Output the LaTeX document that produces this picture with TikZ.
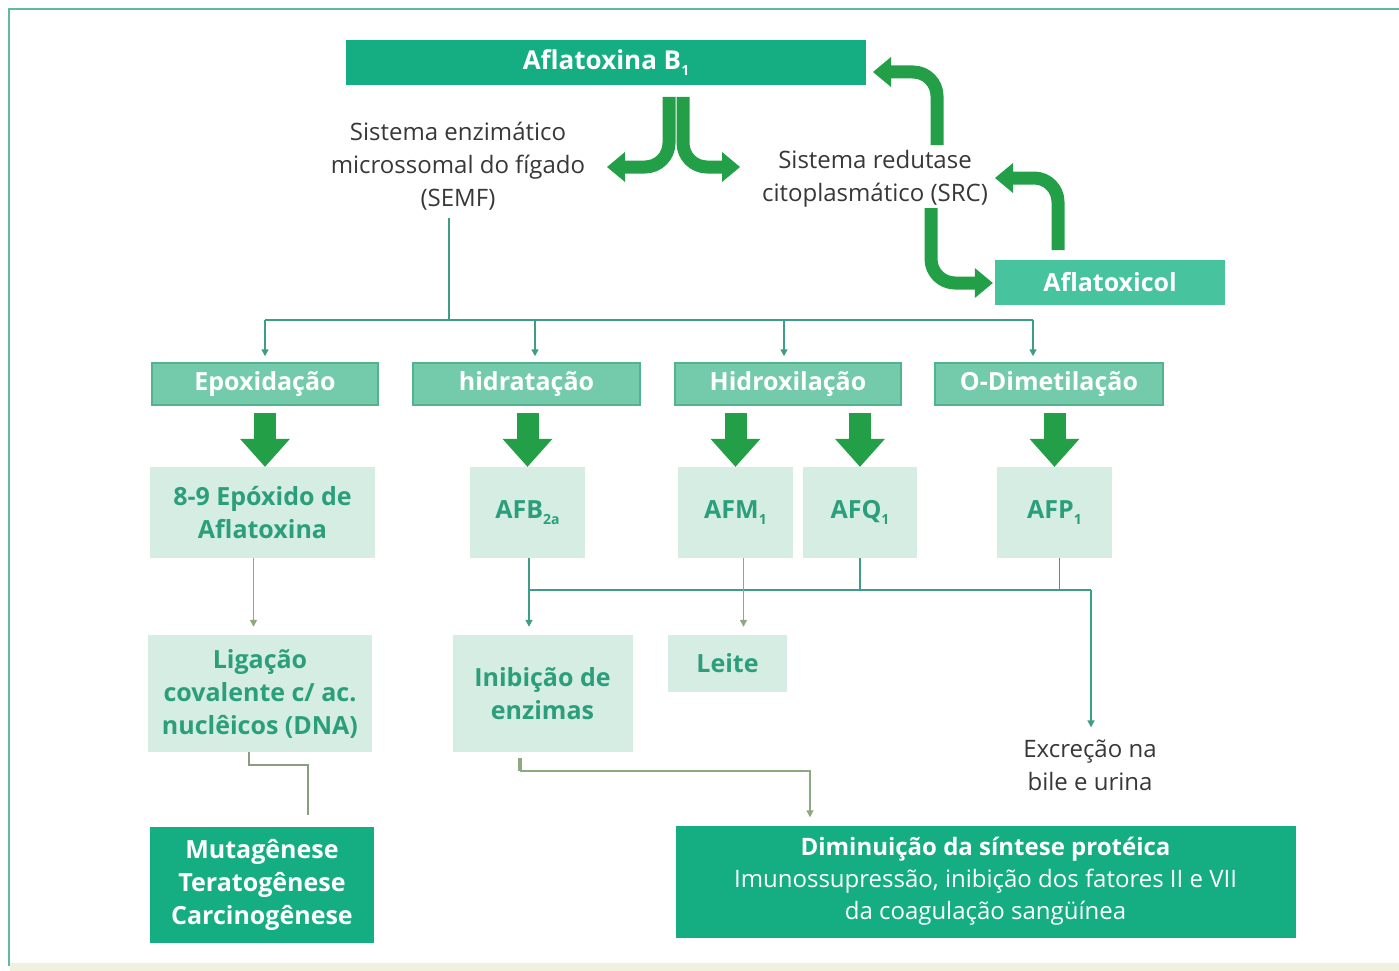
\documentclass[tikz,border=0pt]{standalone}
\usepackage{fontspec}
\setmainfont{Open Sans}
\usetikzlibrary{arrows.meta}

\definecolor{deepgreen}{HTML}{14AE82}
\definecolor{midgreen}{HTML}{47C39D}
\definecolor{procfill}{HTML}{74CBAB}
\definecolor{procline}{HTML}{52B38F}
\definecolor{prodfill}{HTML}{D5EDE3}
\definecolor{prodtext}{HTML}{2B9F7B}
\definecolor{arrowgreen}{HTML}{23A047}
\definecolor{linkteal}{HTML}{3E9E85}
\definecolor{linkolive}{HTML}{8EA881}
\definecolor{graytext}{HTML}{383838}
\definecolor{framegreen}{HTML}{62B99C}
\definecolor{stripbeige}{HTML}{F1F0DF}

\newcommand{\lowidx}[1]{\raisebox{-0.4ex}{\fontsize{14}{14}\selectfont #1}}

\begin{document}
\begin{tikzpicture}[x=1pt,y=-1pt,
  box/.style={rectangle, inner sep=0pt, align=center,
    font=\bfseries\fontsize{25}{33}\selectfont},
  darkbox/.style={box, fill=deepgreen, text=white},
  lightbox/.style={box, fill=midgreen, text=white},
  procbox/.style={box, fill=procfill, draw=procline, line width=1.5pt, text=white},
  prodbox/.style={box, fill=prodfill, text=prodtext},
  plain/.style={align=center, text=graytext, inner sep=0pt,
    font=\fontsize{24}{33}\selectfont},
  link/.style={draw=linkteal, line width=1.6pt},
  linkol/.style={draw=linkolive, line width=1.6pt},
  smalltip/.style={-{Triangle[width=7pt,length=7pt]}},
  bigdown/.style={draw=arrowgreen, line width=22pt,
    -{Triangle[width=50pt,length=28pt,line width=0pt]}},
  curvearrow/.style={draw=arrowgreen, line width=13pt, rounded corners=24pt,
    -{Triangle[width=30pt,length=18pt,line width=0pt]}}
]
% page and frame
\fill[white] (0,0) rectangle (1399,971);
\useasboundingbox (0,0) rectangle (1399,971);
\fill[stripbeige] (10,963) rectangle (1399,971);
\draw[framegreen, line width=2.5pt] (9,966) -- (9,9) -- (1399,9);

% top level
\node[darkbox, minimum width=520pt, minimum height=45pt,
  font=\bfseries\fontsize{26}{33}\selectfont] (afb1) at (606,62.5)
  {Aflatoxina B\lowidx{1}};
\node[plain] (semf) at (458,166) {Sistema enzimático\\microssomal do fígado\\(SEMF)};
\node[plain] (src) at (875,179) {Sistema redutase\\citoplasmático (SRC)};
\node[lightbox, minimum width=230pt, minimum height=45pt] (axcol) at (1110,282.5)
  {Aflatoxicol};

% reaction types
\node[procbox, minimum width=226pt, minimum height=42pt] (epox) at (265,384) {Epoxidação};
\node[procbox, minimum width=227pt, minimum height=42pt] (hidr) at (526.5,384) {hidratação};
\node[procbox, minimum width=226pt, minimum height=42pt] (hidrox) at (788,384) {Hidroxilação};
\node[procbox, minimum width=228pt, minimum height=42pt] (odim) at (1049,384) {O-Dimetilação};

% metabolites
\node[prodbox, minimum width=225pt, minimum height=91pt] (epo89) at (262.5,512.5)
  {8-9 Epóxido de\\Aflatoxina};
\node[prodbox, minimum width=115pt, minimum height=91pt] (afb2a) at (527.5,512.5)
  {AFB\lowidx{2a}};
\node[prodbox, minimum width=115pt, minimum height=91pt] (afm1) at (735.5,512.5)
  {AFM\lowidx{1}};
\node[prodbox, minimum width=114pt, minimum height=91pt] (afq1) at (860,512.5)
  {AFQ\lowidx{1}};
\node[prodbox, minimum width=115pt, minimum height=91pt] (afp1) at (1054.5,512.5)
  {AFP\lowidx{1}};

% effects
\node[prodbox, minimum width=224pt, minimum height=117pt] (lig) at (260,693.5)
  {Ligação\\covalente c/ ac.\\nuclêicos (DNA)};
\node[prodbox, minimum width=180pt, minimum height=117pt] (inib) at (542.5,693.5)
  {Inibição de\\enzimas};
\node[prodbox, minimum width=119pt, minimum height=57pt] (leite) at (727.5,663.5) {Leite};
\node[plain] (excr) at (1090,765) {Excreção na\\bile e urina};
\node[darkbox, minimum width=224pt, minimum height=116pt] (mutag) at (262,884.5)
  {Mutagênese\\Teratogênese\\Carcinogênese};
\node[darkbox, minimum width=620pt, minimum height=112pt,
  font=\fontsize{24}{32}\selectfont] (dimin) at (985.5,881.5)
  {\textbf{Diminuição da síntese protéica}\\Imunossupressão, inibição dos fatores II e VII\\da coagulação sangüínea};

% split of the first step into the two enzyme systems
\coordinate (forkL) at (669,97);
\coordinate (forkR) at (683,97);
\coordinate (tipSemf) at (607,167);
\coordinate (tipSrc) at (740,167);
\draw[curvearrow] (forkL) |- (tipSemf);
\draw[curvearrow] (forkR) |- (tipSrc);

% reductase cycle
\coordinate (srcUp) at (937,145);
\coordinate (tipAfb) at (873,72);
\draw[curvearrow] (srcUp) |- (tipAfb);
\coordinate (axUp) at (1058,250);
\coordinate (tipSrcB) at (995,178);
\draw[curvearrow] (axUp) |- (tipSrcB);
\coordinate (srcDown) at (931,208);
\draw[curvearrow] (srcDown) |- ([xshift=-2pt]axcol.west |- 0,283);

% microsomal branches
\coordinate (hub) at (449,320);
\coordinate (b1) at (265,320);
\coordinate (b2) at (535,320);
\coordinate (b3) at (784,320);
\coordinate (b4) at (1033,320);
\draw[link] ([yshift=-8pt]semf.south -| hub) -- (hub);
\draw[link] (b1) -- (b4);
\foreach \b/\n in {b1/epox, b2/hidr, b3/hidrox, b4/odim}
  \draw[link, smalltip, shorten >=6pt] (\b) -- (\b |- \n.north);

% main products
\draw[bigdown] ([yshift=-7pt]epox.south) -- (epox.south |- epo89.north);
\draw[bigdown] ([yshift=-7pt]hidr.south -| afb2a.north) -- (afb2a.north);
\draw[bigdown] ([yshift=-7pt]hidrox.south -| afm1.north) -- (afm1.north);
\draw[bigdown] ([yshift=-7pt]hidrox.south -| afq1.north) -- (afq1.north);
\draw[bigdown] ([yshift=-7pt]odim.south -| afp1.north) -- (afp1.north);

% routes of the metabolites
\coordinate (xL) at (529,590);
\coordinate (xR) at (1091,590);
\draw[linkol, smalltip, shorten >=8pt] ([xshift=-9pt]epo89.south) -- ([xshift=-9pt]epo89.south |- lig.north);
\draw[link] (xL) -- (xR);
\draw[link, smalltip, shorten >=8pt] (xL |- afb2a.south) -- (xL |- inib.north);
\draw[linkol, smalltip, shorten >=8pt] ([xshift=8pt]afm1.south) -- ([xshift=8pt]afm1.south |- leite.north);
\draw[link] (afq1.south) -- (afq1.south |- xL);
\draw[link] ([xshift=5pt]afp1.south) -- ([xshift=5pt]afp1.south |- xL);
\draw[link, smalltip] (xR) -- ([yshift=12pt]excr.north -| xR);

% consequences
\coordinate (ligBend) at (308,765);
\draw[draw=linkolive!70!gray, line width=1.3pt]
  ([xshift=-11pt]lig.south) |- (ligBend) -- ([yshift=11pt]ligBend |- mutag.north);
\coordinate (inibStub) at (520,758);
\coordinate (inibBend) at (810,771);
\draw[draw=linkolive, line width=4pt] (inibStub) -- (inibStub |- inibBend);
\draw[linkol, smalltip, shorten >=8pt] (inibStub |- inibBend) -- (inibBend) -- (inibBend |- dimin.north);
\end{tikzpicture}
\end{document}
